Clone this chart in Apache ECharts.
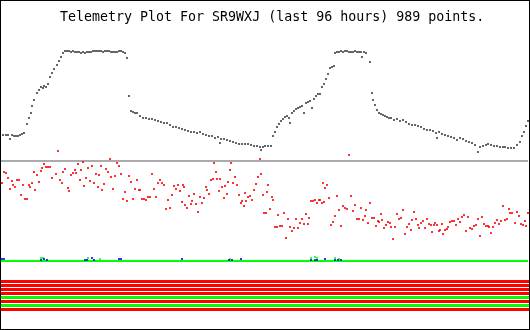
<!DOCTYPE html>
<html><head><meta charset="utf-8">
<script src="https://cdn.jsdelivr.net/npm/echarts@6/dist/echarts.min.js"></script>
<style>
html,body{margin:0;padding:0;background:#fff}
#wrap{position:relative;width:530px;height:330px}
#c{width:530px;height:330px}
#frame{position:absolute;left:0;top:0;width:530px;height:330px;box-sizing:border-box;border:1px solid #000;pointer-events:none}
</style>
</head><body><div id="wrap"><div id="c"></div><div id="frame"></div></div>
<script>
const titleText = 'Telemetry Plot For SR9WXJ (last 96 hours) 989 points.';
const timeRange = [0, 528];
const valueRange = [-2, 260];
const dividerLevel = 99;
const zeroLevel = -1;

// channel 1 (dark gray)
const ch1 = [[0,125],[3,125],[6,125],[8,125],[10,121],[12,125],[14,124],[16,124],[18,124],[20,125],[22,126],[24,127],[27,136],[29,142],[31,147],[32,154],[34,160],[37,167],[39,170],[41,173],[43,172],[44,174],[46,173],[48,176],[50,183],[52,187],[54,191],[57,195],[59,199],[61,203],[63,207],[65,209],[67,209],[69,209],[71,208],[73,209],[75,208],[77,208],[79,208],[81,207],[83,208],[85,207],[87,208],[89,208],[91,208],[93,209],[95,209],[97,209],[99,209],[101,209],[103,208],[105,209],[107,209],[109,209],[111,208],[113,208],[115,208],[117,208],[119,209],[121,209],[123,208],[125,207],[127,202],[129,164],[131,149],[133,148],[135,147],[137,147],[140,144],[143,142],[146,142],[149,141],[152,141],[155,140],[158,139],[161,138],[164,137],[167,137],[170,135],[173,133],[176,133],[179,132],[182,131],[185,130],[188,129],[191,128],[194,128],[197,127],[200,128],[203,126],[206,125],[209,124],[212,124],[215,122],[218,123],[220,117],[221,121],[224,121],[227,120],[230,119],[233,118],[236,117],[239,116],[242,116],[245,116],[248,116],[251,115],[254,114],[257,114],[260,113],[261,110],[263,113],[265,114],[268,114],[271,114],[273,124],[275,128],[277,133],[279,136],[281,139],[283,141],[285,143],[287,144],[289,142],[290,137],[292,147],[294,149],[296,151],[298,152],[300,153],[302,154],[304,147],[306,157],[308,158],[310,159],[312,152],[314,161],[316,164],[318,166],[320,166],[322,173],[324,176],[326,181],[328,186],[330,192],[332,193],[334,194],[335,207],[337,208],[339,208],[341,209],[343,208],[345,209],[347,209],[349,208],[351,208],[353,208],[355,209],[357,208],[359,208],[361,208],[362,203],[364,208],[366,207],[370,198],[372,167],[373,160],[375,155],[377,150],[379,147],[381,146],[383,145],[385,144],[387,143],[389,142],[391,142],[394,140],[397,141],[400,139],[403,140],[406,138],[409,136],[412,135],[415,135],[418,134],[421,133],[424,131],[427,130],[430,130],[433,129],[436,127],[437,122],[439,128],[442,126],[445,125],[448,124],[451,123],[454,122],[457,120],[460,122],[463,121],[466,119],[469,118],[472,117],[475,115],[478,108],[480,113],[483,114],[486,115],[488,116],[491,115],[494,114],[497,114],[500,113],[503,113],[505,113],[508,112],[511,112],[514,112],[517,115],[520,118],[522,124],[524,128],[526,134],[528,139]];

// channel 2 (red)
const ch2 = [[2,77],[4,88],[6,87],[8,82],[10,71],[12,79],[13,75],[15,73],[17,80],[19,80],[21,65],[23,75],[25,61],[27,61],[29,75],[30,73],[32,77],[34,88],[35,70],[37,85],[39,78],[41,89],[42,92],[44,96],[46,93],[48,93],[50,93],[52,82],[56,86],[58,109],[60,80],[62,77],[63,88],[65,91],[68,72],[69,69],[71,85],[73,87],[75,90],[76,87],[78,96],[80,80],[81,90],[83,98],[84,74],[86,82],[88,92],[90,79],[92,94],[94,77],[96,86],[98,73],[99,85],[101,94],[102,70],[104,76],[106,91],[108,88],[110,101],[111,83],[113,71],[115,84],[117,97],[119,94],[121,86],[123,61],[125,68],[127,59],[129,84],[131,78],[133,61],[135,71],[137,80],[139,70],[140,70],[142,61],[144,61],[146,60],[148,63],[150,63],[152,86],[154,71],[156,63],[158,77],[160,80],[162,77],[164,75],[166,51],[168,60],[170,52],[172,65],[174,74],[176,71],[178,75],[180,69],[182,58],[183,75],[184,73],[185,55],[187,52],[189,64],[191,56],[192,59],[194,66],[196,56],[198,48],[200,63],[202,57],[204,62],[206,73],[207,70],[209,66],[211,80],[213,81],[214,97],[216,88],[217,81],[219,69],[220,81],[222,73],[224,62],[225,74],[227,66],[228,78],[230,90],[231,97],[233,77],[235,83],[237,75],[239,65],[241,57],[242,59],[244,54],[245,67],[246,59],[248,63],[250,64],[252,60],[254,70],[256,76],[258,83],[260,101],[261,86],[263,65],[264,47],
[266,47],[267,68],[268,75],[270,51],[272,63],[273,60],[275,33],[277,33],[278,45],[280,34],[282,34],[284,47],[286,22],[288,41],[290,33],[292,29],[294,32],[296,41],[298,32],[300,37],[302,41],[304,36],[306,46],[308,36],[309,42],[311,59],[313,59],[315,60],[317,57],[319,60],[320,60],[322,57],[323,77],[324,58],[325,72],[327,75],[329,62],[331,35],[333,38],[335,44],[337,64],[339,50],[341,34],[343,54],[345,52],[347,51],[349,105],[351,64],[353,49],[355,55],[357,41],[359,41],[361,52],[363,40],[365,44],[366,50],[368,37],[370,57],[372,42],[374,42],[376,34],[378,39],[379,38],[381,46],[382,40],[384,32],[386,35],[388,38],[390,37],[391,33],[393,21],[395,33],[397,46],[399,41],[401,42],[403,50],[405,26],[407,33],[409,36],[411,30],[412,40],[414,48],[416,41],[418,35],[419,32],[421,37],[423,39],[425,32],[427,41],[429,36],[431,35],[432,28],[434,35],[435,37],[437,35],[439,29],[440,30],[442,36],[443,26],[445,30],[447,31],[448,33],[450,38],[452,39],[454,39],[456,35],[458,41],[460,38],[462,43],[464,45],[466,29],[468,43],[470,32],[472,31],[474,34],[476,35],[478,41],[480,24],[482,43],[484,36],[486,34],[488,34],[489,33],[491,27],[493,33],[495,37],[497,40],[499,36],[501,39],[503,54],[505,40],[507,41],[509,51],[510,47],[512,47],[515,37],[517,48],[519,44],[521,36],[523,35],[525,39],[526,34],[528,47]];

// channel 3 (green) and channel 4 (blue), near zero
const ch3 = [[41,2],[43,2],[88,2],[100,1],[230,1],[311,2],[315,3],[317,2],[335,2],[339,1]];
const ch4 = [[2,1],[4,1],[41,0],[44,1],[47,0],[85,0],[87,0],[92,2],[94,0],[119,1],[121,1],[182,1],[229,0],[232,0],[241,1],[311,0],[315,0],[317,0],[325,1],[335,0],[338,0],[341,0]];

// digital bits
const bitNames = ['B1','B2','B3','B4','B5','B6','B7','B8'];
const bitValues = [0,0,0,0,1,0,1,0];
const bitColors = ['#ff0000','#00ff00'];

const chart = echarts.init(document.getElementById('c'));
const series = [
  {type:'line', xAxisIndex:0, yAxisIndex:0, data:[[timeRange[0],dividerLevel],[timeRange[1],dividerLevel]], showSymbol:false, silent:true, lineStyle:{color:'#aaaaaa', width:2}, z:1},
  {type:'line', xAxisIndex:0, yAxisIndex:0, data:[[timeRange[0],zeroLevel],[timeRange[1],zeroLevel]], showSymbol:false, silent:true, lineStyle:{color:'#00ff00', width:2}, z:2},
  {type:'scatter', xAxisIndex:0, yAxisIndex:0, data:ch1, symbol:'rect', symbolSize:2, itemStyle:{color:'#404040'}, z:3},
  {type:'scatter', xAxisIndex:0, yAxisIndex:0, data:ch2, symbol:'rect', symbolSize:2, itemStyle:{color:'#ff0000'}, z:3},
  {type:'scatter', xAxisIndex:0, yAxisIndex:0, data:ch3, symbol:'rect', symbolSize:2, itemStyle:{color:'#00ff00'}, z:4},
  {type:'scatter', xAxisIndex:0, yAxisIndex:0, data:ch4, symbol:'rect', symbolSize:2, itemStyle:{color:'#0000ff'}, z:5}
];
bitNames.forEach((n, i) => {
  series.push({type:'line', xAxisIndex:1, yAxisIndex:1, data:[[timeRange[0],n],[timeRange[1],n]], showSymbol:false, silent:true,
    lineStyle:{color:bitColors[bitValues[i]], width:3, cap:'butt'}});
});

chart.setOption({
  animation:false,
  backgroundColor:'#ffffff',
  title:{text:titleText, left:60, top:11, padding:0, textStyle:{fontFamily:'DejaVu Sans Mono', fontSize:13.3, fontWeight:'normal', color:'#000'}},
  grid:[
    {left:0, top:0, width:528, height:262},
    {left:1, top:279.5, width:528, height:32}
  ],
  xAxis:[
    {type:'value', gridIndex:0, min:timeRange[0], max:timeRange[1], show:false},
    {type:'value', gridIndex:1, min:timeRange[0], max:timeRange[1], show:false}
  ],
  yAxis:[
    {type:'value', gridIndex:0, min:valueRange[0], max:valueRange[1], show:false},
    {type:'category', gridIndex:1, data:bitNames, inverse:true, show:false}
  ],
  series:series
});
</script></body></html>
